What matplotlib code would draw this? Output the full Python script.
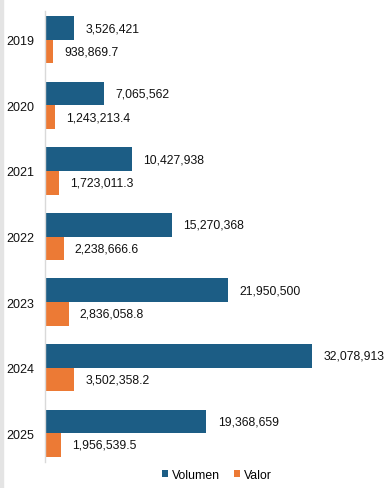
import numpy as np
import matplotlib
matplotlib.use('Agg')
import matplotlib.pyplot as plt
from matplotlib.patches import Rectangle

# datos
anios = ['2019', '2020', '2021', '2022', '2023', '2024', '2025']
volumen = [3526421, 7065562, 10427938, 15270368, 21950500, 32078913, 19368659]
valor = [938869.7, 1243213.4, 1723011.3, 2238666.6, 2836058.8, 3502358.2, 1956539.5]

azul = '#1c5d85'
naranja = '#ec7a35'

plt.rcParams['font.family'] = ['Liberation Sans', 'DejaVu Sans']

W, H = 387, 489
fig = plt.figure(figsize=(W / 100, H / 100), dpi=100)
ax = fig.add_axes([45 / W, 1 - 463 / H, (W - 45) / W, 451 / H])

y = np.arange(len(anios))
h = 0.36
ax.barh(y - h / 2, volumen, height=h, color=azul, label='Volumen')
ax.barh(y + h / 2, valor, height=h, color=naranja, label='Valor')

off = 1.35e6
for i in range(len(anios)):
    ax.text(volumen[i] + off, y[i] - h / 2, f'{volumen[i]:,.0f}',
            va='center', ha='left', fontsize=8.8, color='#111111')
    ax.text(valor[i] + off, y[i] + h / 2, f'{valor[i]:,.1f}',
            va='center', ha='left', fontsize=8.8, color='#111111')

ax.set_xlim(0, 41.04e6)
ax.set_ylim(6.44, -0.44)
ax.set_yticks(y)
ax.set_yticklabels(anios, fontsize=9, color='#111111')
ax.tick_params(axis='y', length=0, pad=8)
ax.set_xticks([])
for s in ['top', 'right', 'bottom']:
    ax.spines[s].set_visible(False)
ax.spines['left'].set_color('#d9d9d9')
ax.spines['left'].set_linewidth(1.0)

# franja gris del recorte a la izquierda
fig.patches.append(Rectangle((0, 0), 3 / W, 1, transform=fig.transFigure,
                             color='#e4e4e4', zorder=0))

fig.legend(loc='lower center', bbox_to_anchor=(0.56, 0.0), ncol=2, frameon=False,
           fontsize=8.8, handlelength=0.5, handleheight=0.5, handletextpad=0.3,
           columnspacing=1.2, borderpad=0.1)

fig.savefig('out.png', dpi=100)
